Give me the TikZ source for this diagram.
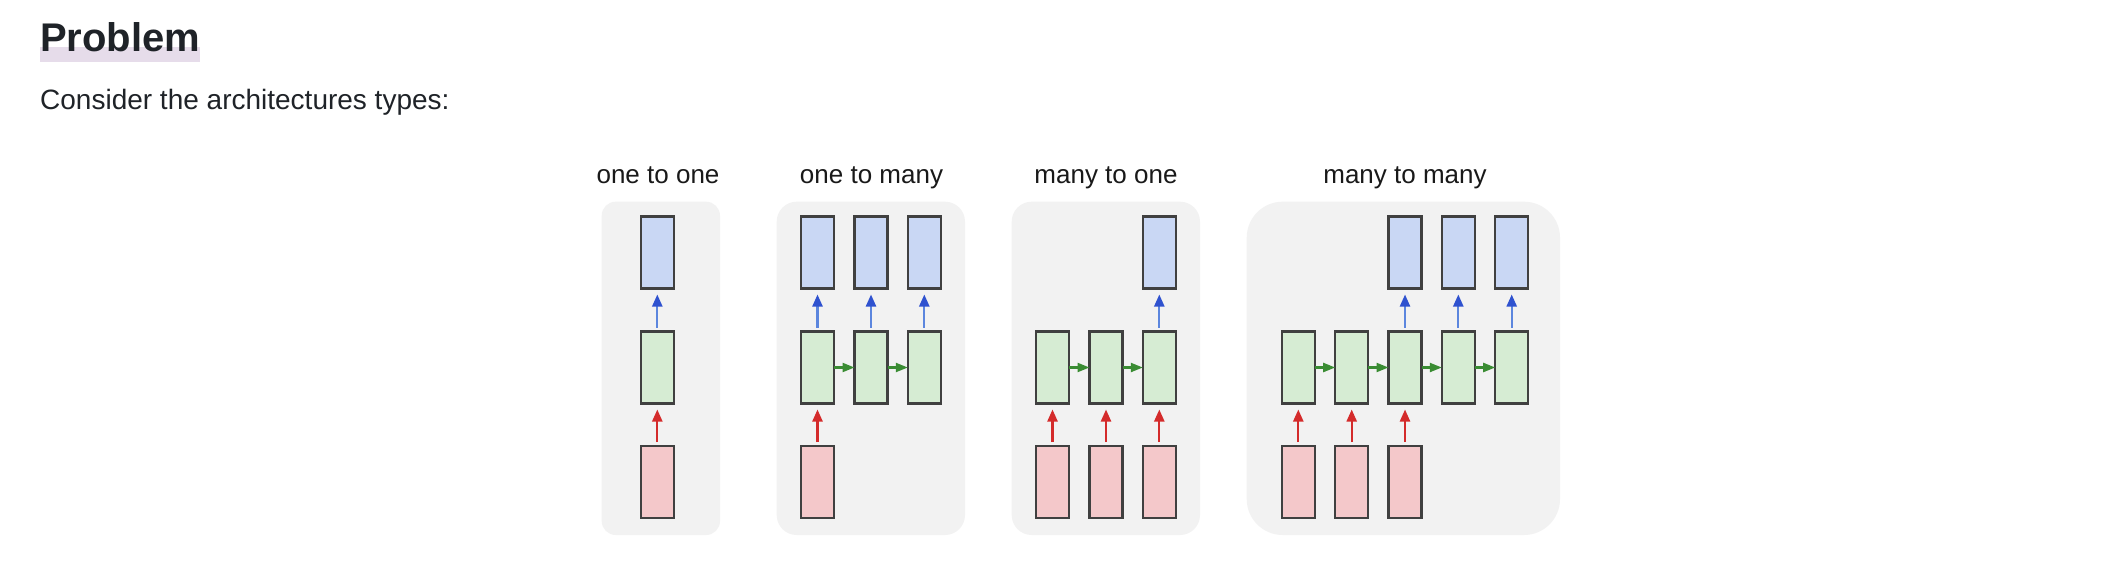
\documentclass[tikz,border=0pt]{standalone}
\usepackage{fontspec}
\setmainfont{Liberation Sans}
\usetikzlibrary{arrows.meta,calc}
\definecolor{txt}{HTML}{1F2328}
\definecolor{hl}{HTML}{E6DCEA}
\definecolor{panel}{HTML}{F2F2F2}
\definecolor{bfill}{HTML}{C9D7F4}
\definecolor{gfill}{HTML}{D6ECD3}
\definecolor{rfill}{HTML}{F4C8CA}
\definecolor{edge}{HTML}{404040}
\definecolor{barrow}{HTML}{2F52CF}
\definecolor{bshaft}{HTML}{5C86DE}
\definecolor{rarrow}{HTML}{D42B2B}
\definecolor{garrow}{HTML}{3A8C33}
\tikzset{
  cell/.style={draw=edge, line width=2.4pt, minimum width=33pt, minimum height=72pt, inner sep=0pt, outer sep=0pt},
  outbox/.style={cell, fill=bfill},
  hidbox/.style={cell, fill=gfill},
  inbox/.style={cell, fill=rfill},
  ttl/.style={font=\fontsize{26}{30}\selectfont, text=black!90, anchor=base, inner sep=0pt},
  uparr/.style={line width=2.2pt, shorten <=4pt, shorten >=6pt},
  outarr/.style={uparr, draw=bshaft, -{Triangle[length=12pt,width=10pt,fill=barrow,color=barrow]}},
  inarr/.style={uparr, draw=rarrow, -{Triangle[length=12pt,width=10pt]}},
  recarr/.style={line width=2.2pt, draw=garrow, -{Triangle[length=12pt,width=9pt]}}
}
\begin{document}
\begin{tikzpicture}[x=1pt,y=-1pt]
\useasboundingbox[fill=white] (0,0) rectangle (2108,580);
% heading
\fill[hl] (40,46.7) rectangle (200,61.7);
\node[anchor=base west, inner sep=0pt, text=txt, font=\fontsize{40}{48}\selectfont\bfseries] (head) at (40,52) {Problem};
\node[anchor=base west, inner sep=0pt, text=txt, font=\fontsize{28}{34}\selectfont] (intro) at (40,110) {Consider the architectures types:};
% panels
\fill[panel, rounded corners=14pt] (601.7,201.7) rectangle (720,535);
\fill[panel, rounded corners=20pt] (776.7,201.7) rectangle (965,535);
\fill[panel, rounded corners=20pt] (1011.7,201.7) rectangle (1200,535);
\fill[panel, rounded corners=36pt] (1246.7,201.7) rectangle (1560,535);
% titles
\node[ttl] (t1) at (658,183) {one to one};
\node[ttl] (t2) at (871.5,183) {one to many};
\node[ttl] (t3) at (1106,183) {many to one};
\node[ttl] (t4) at (1405,183) {many to many};
% one to one
\node[outbox] (a-o) at (657.3,252.5) {};
\node[hidbox] (a-h) at (657.3,367.5) {};
\node[inbox] (a-i) at (657.3,482) {};
\draw[outarr] (a-h.north) -- (a-o.south);
\draw[inarr] (a-i.north) -- (a-h.south);
% one to many
\foreach \k/\x in {1/817.5,2/871,3/924.3}{
  \node[outbox] (b-o\k) at (\x,252.5) {};
  \node[hidbox] (b-h\k) at (\x,367.5) {};
  \draw[outarr] (b-h\k.north) -- (b-o\k.south);
}
\node[inbox] (b-i1) at (817.5,482) {};
\draw[inarr] (b-i1.north) -- (b-h1.south);
\draw[recarr] (b-h1.east) -- (b-h2.west);
\draw[recarr] (b-h2.east) -- (b-h3.west);
% many to one
\foreach \k/\x in {1/1052.5,2/1106,3/1159.3}{
  \node[hidbox] (c-h\k) at (\x,367.5) {};
  \node[inbox] (c-i\k) at (\x,482) {};
  \draw[inarr] (c-i\k.north) -- (c-h\k.south);
}
\node[outbox] (c-o3) at (1159.3,252.5) {};
\draw[outarr] (c-h3.north) -- (c-o3.south);
\draw[recarr] (c-h1.east) -- (c-h2.west);
\draw[recarr] (c-h2.east) -- (c-h3.west);
% many to many
\foreach \k/\x in {1/1298.3,2/1351.7,3/1405,4/1458.3,5/1511.7}{
  \node[hidbox] (d-h\k) at (\x,367.5) {};
}
\foreach \k in {1,2,3}{
  \node[inbox] (d-i\k) at ($(d-h\k)+(0,114.5)$) {};
}
\foreach \k in {3,4,5}{
  \node[outbox] (d-o\k) at ($(d-h\k)+(0,-115)$) {};
  \draw[outarr] (d-h\k.north) -- (d-o\k.south);
}
\foreach \k in {1,2,3}{
  \draw[inarr] (d-i\k.north) -- (d-h\k.south);
}
\draw[recarr] (d-h1.east) -- (d-h2.west);
\draw[recarr] (d-h2.east) -- (d-h3.west);
\draw[recarr] (d-h3.east) -- (d-h4.west);
\draw[recarr] (d-h4.east) -- (d-h5.west);
\end{tikzpicture}
\end{document}
